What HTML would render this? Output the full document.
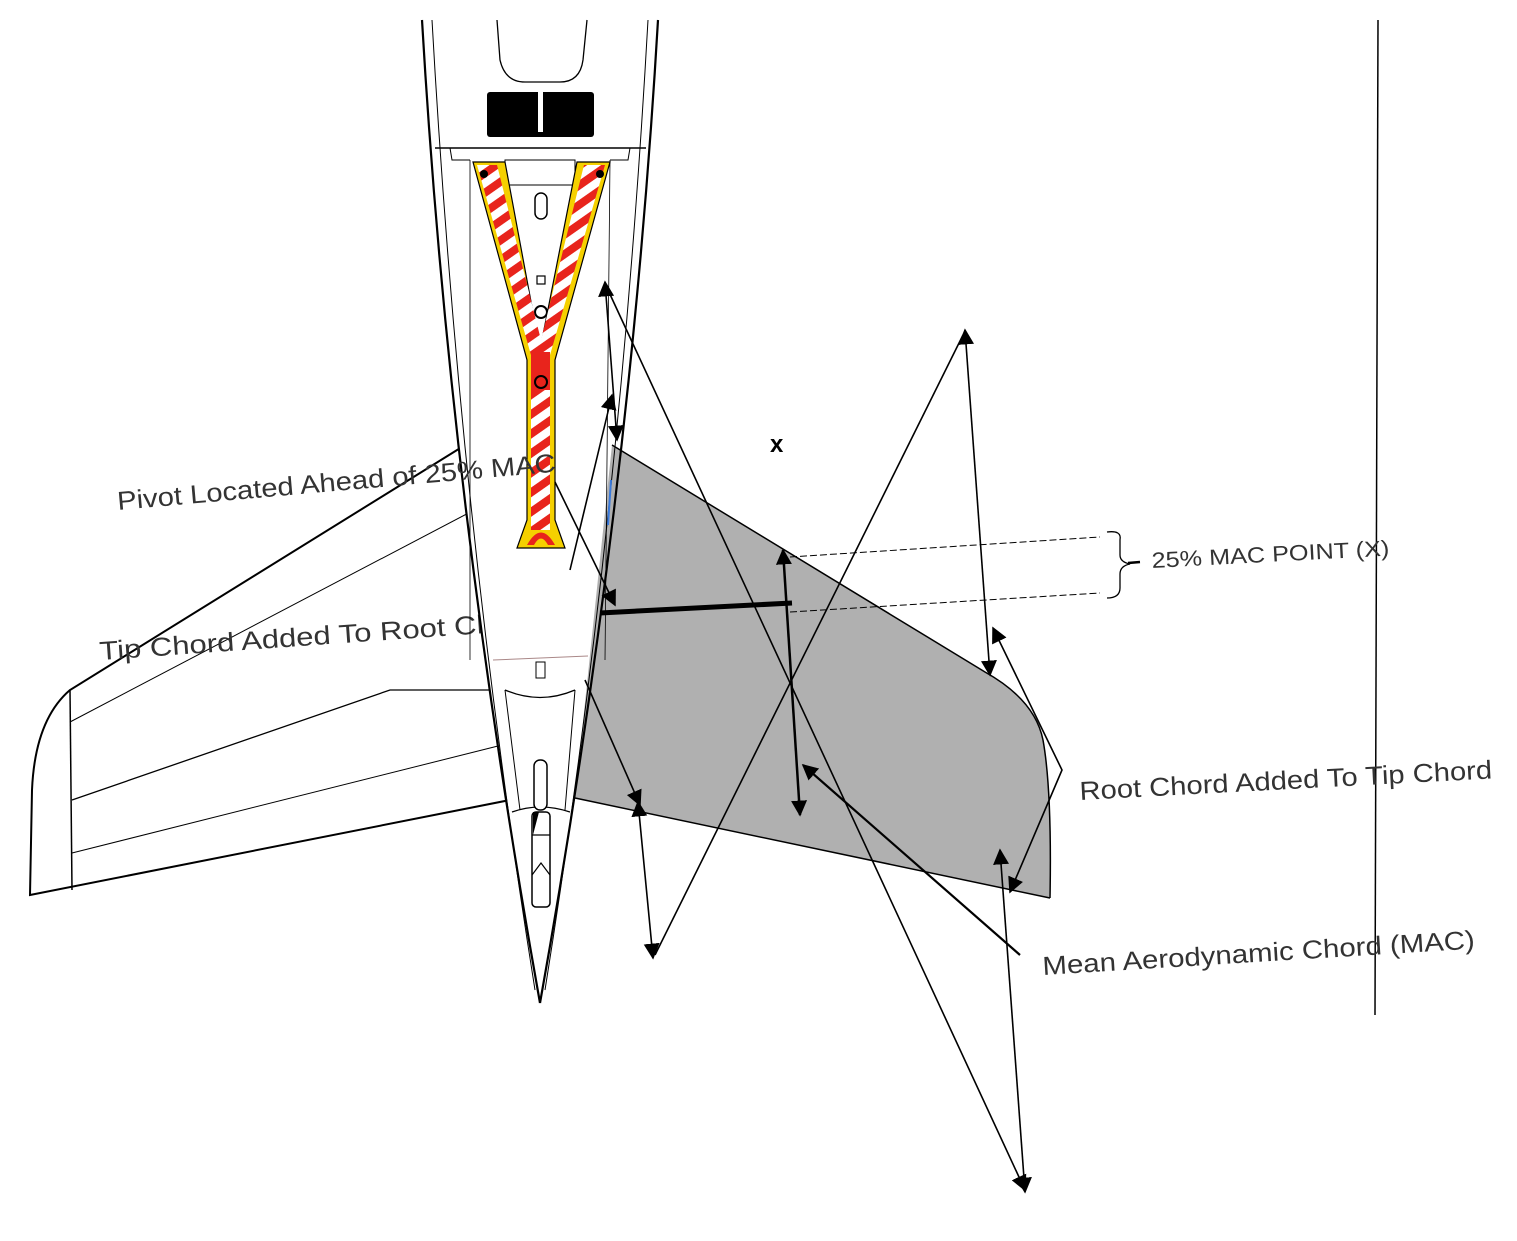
<!DOCTYPE html>
<html><head><meta charset="utf-8"><style>
html,body{margin:0;padding:0;background:#fff;}
svg{display:block;}
text{font-family:"Liberation Sans",sans-serif;fill:#333;}
</style></head><body>
<svg width="1517" height="1241" viewBox="0 0 1517 1241" xmlns="http://www.w3.org/2000/svg">
<defs>
<marker id="ah2" viewBox="0 0 10 10" refX="9" refY="5" markerWidth="16" markerHeight="16" markerUnits="userSpaceOnUse" orient="auto-start-reverse">
<path d="M0,0 L10,5 L0,10 z" fill="#000"/></marker>
<pattern id="stripe" width="16" height="16" patternUnits="userSpaceOnUse" patternTransform="rotate(-35)">
<rect width="16" height="16" fill="#fff"/><rect width="16" height="8" fill="#e8241c"/></pattern>
</defs>

<line x1="1378" y1="20" x2="1375" y2="1015" stroke="#000" stroke-width="1.5"/>

<path d="M470,442 L70,690 Q35,720 32,790 L30,895 L510,800" fill="#fff" stroke="#000" stroke-width="2"/>
<line x1="70" y1="690" x2="72" y2="890" stroke="#000" stroke-width="1.5"/>
<path d="M70,722 L478,508" stroke="#000" stroke-width="1" fill="none"/>
<path d="M72,800 L390,690 L495,690" stroke="#000" stroke-width="1.3" fill="none"/>
<path d="M72,853 L498,746" stroke="#000" stroke-width="1" fill="none"/>
<rect x="465" y="458" width="13" height="44" fill="#fff" stroke="#000" stroke-width="1"/>

<text x="100" y="660" font-size="26" textLength="440" lengthAdjust="spacingAndGlyphs" transform="rotate(-4 100 660)">Tip Chord Added To Root Chord</text>

<path d="M612,445 L985,672 Q1035,700 1043,740 Q1052,790 1050,898 L575,798 Z" fill="#b0b0b0"/>
<path d="M612,445 L985,672 Q1035,700 1043,740 Q1052,790 1050,898" fill="none" stroke="#000" stroke-width="1.5"/>
<line x1="575" y1="798" x2="1050" y2="898" stroke="#000" stroke-width="1.5"/>

<path d="M422,20 Q450,500 540,1003 Q600,500 658,20 Z" fill="#fff"/>
<path d="M422,20 Q450,500 540,1003" fill="none" stroke="#000" stroke-width="2.2"/>
<path d="M658,20 Q630,500 540,1003" fill="none" stroke="#000" stroke-width="2.2"/>
<path d="M432,20 Q460,520 535,990" fill="none" stroke="#000" stroke-width="1"/>
<path d="M648,20 Q620,520 545,990" fill="none" stroke="#000" stroke-width="1"/>
<path d="M497,20 L500,60 Q505,82 525,82 L560,82 Q580,82 583,60 L587,20" fill="none" stroke="#000" stroke-width="1.3"/>
<rect x="487" y="92" width="107" height="45" rx="3" fill="#000"/>
<rect x="538" y="92" width="5" height="40" fill="#fff"/>
<line x1="435" y1="148" x2="646" y2="148" stroke="#000" stroke-width="1.5"/>
<path d="M450,148 L452,160 L470,160 M630,148 L628,160 L610,160" fill="none" stroke="#000" stroke-width="1"/>
<path d="M470,160 L470,660 M610,160 L605,660" fill="none" stroke="#000" stroke-width="0.8"/>
<rect x="505" y="160" width="70" height="25" fill="none" stroke="#000" stroke-width="1"/>
<rect x="535" y="193" width="12" height="26" rx="6" fill="#fff" stroke="#000" stroke-width="1.5"/>
<rect x="537" y="276" width="8" height="8" fill="#fff" stroke="#000" stroke-width="1.2"/>
<circle cx="541" cy="312" r="6" fill="#fff" stroke="#000" stroke-width="2"/>
<line x1="493" y1="660" x2="588" y2="656" stroke="#a88" stroke-width="1"/>
<rect x="536" y="662" width="9" height="16" fill="#fff" stroke="#000" stroke-width="1"/>
<path d="M505,690 Q540,705 575,690" fill="none" stroke="#000" stroke-width="1.3"/>
<path d="M505,690 L520,810 M575,690 L565,810" fill="none" stroke="#000" stroke-width="1"/>
<path d="M512,812 Q540,802 570,812" fill="none" stroke="#000" stroke-width="1.3"/>
<rect x="534" y="760" width="13" height="50" rx="6" fill="#fff" stroke="#000" stroke-width="1.5"/>
<rect x="532" y="812" width="18" height="95" rx="4" fill="#fff" stroke="#000" stroke-width="1.5"/>
<path d="M532,835 L550,835 M532,875 L541,863 L550,875" fill="none" stroke="#000" stroke-width="1.2"/>
<path d="M533,812 L533,835 L539,812 Z" fill="#000"/>

<path d="M473,162 L505,162 L540,350 L577,162 L610,162 L555,360 L555,520 L565,548 L517,548 L527,520 L527,360 Z" fill="#f5d000" stroke="#000" stroke-width="1.2"/>
<path d="M477,165 L497,165 L541,340 L584,165 L605,165 L550,355 L550,530 L531,530 L531,355 Z" fill="url(#stripe)"/>
<rect x="531" y="352" width="19" height="38" fill="#e8241c"/>
<circle cx="541" cy="382" r="6" fill="#e8241c" stroke="#000" stroke-width="2"/>
<path d="M527,545 Q541,520 555,545 L548,545 Q541,532 534,545 Z" fill="#e8241c"/>
<circle cx="484" cy="174" r="4" fill="#000"/><circle cx="600" cy="174" r="4" fill="#000"/>
<line x1="611" y1="480" x2="608" y2="525" stroke="#3a7adc" stroke-width="2"/>

<text x="118" y="510" font-size="26" textLength="440" lengthAdjust="spacingAndGlyphs" transform="rotate(-5 118 510)">Pivot Located Ahead of 25% MAC</text>

<g stroke="#000" stroke-width="1.6" fill="none">
<line x1="605" y1="282" x2="617" y2="440" marker-start="url(#ah2)" marker-end="url(#ah2)"/>
<line x1="608" y1="290" x2="1025" y2="1190" marker-end="url(#ah2)"/>
<line x1="570" y1="570" x2="612" y2="395" marker-end="url(#ah2)"/>
<line x1="555" y1="482" x2="615" y2="605" marker-end="url(#ah2)"/>
<line x1="585" y1="680" x2="640" y2="805" marker-end="url(#ah2)"/>
<line x1="638" y1="802" x2="653" y2="958" marker-start="url(#ah2)" marker-end="url(#ah2)"/>
<line x1="655" y1="955" x2="963" y2="335"/>
<line x1="965" y1="330" x2="990" y2="675" marker-start="url(#ah2)" marker-end="url(#ah2)"/>
<line x1="783" y1="550" x2="800" y2="815" stroke-width="2.5" marker-start="url(#ah2)" marker-end="url(#ah2)"/>
<line x1="1020" y1="955" x2="803" y2="765" stroke-width="2.2" marker-end="url(#ah2)"/>
<line x1="1000" y1="850" x2="1025" y2="1192" marker-start="url(#ah2)" marker-end="url(#ah2)"/>
<polyline points="993,628 1062,770 1010,892" marker-start="url(#ah2)" marker-end="url(#ah2)"/>
</g>
<line x1="600" y1="613" x2="792" y2="603" stroke="#000" stroke-width="5"/>
<g stroke="#000" stroke-width="1" stroke-dasharray="7,3" fill="none">
<line x1="790" y1="557" x2="1100" y2="537"/>
<line x1="790" y1="612" x2="1100" y2="593"/>
</g>
<path d="M1107,532 Q1122,530 1120,540 L1120,555 Q1120,562 1130,564 Q1120,566 1120,574 L1120,588 Q1120,598 1107,598" fill="none" stroke="#000" stroke-width="1.3"/>
<line x1="1128" y1="563" x2="1140" y2="562" stroke="#000" stroke-width="2.5"/>

<text x="770" y="452" font-size="24" font-weight="bold" style="fill:#000">x</text>
<text x="1152" y="568" font-size="22" textLength="238" lengthAdjust="spacingAndGlyphs" transform="rotate(-3 1152 568)">25% MAC POINT (X)</text>
<text x="1080" y="800" font-size="26" textLength="413" lengthAdjust="spacingAndGlyphs" transform="rotate(-3 1080 800)">Root Chord Added To Tip Chord</text>
<text x="1043" y="975" font-size="26" textLength="433" lengthAdjust="spacingAndGlyphs" transform="rotate(-3.5 1043 975)">Mean Aerodynamic Chord (MAC)</text>
</svg>
</body></html>
